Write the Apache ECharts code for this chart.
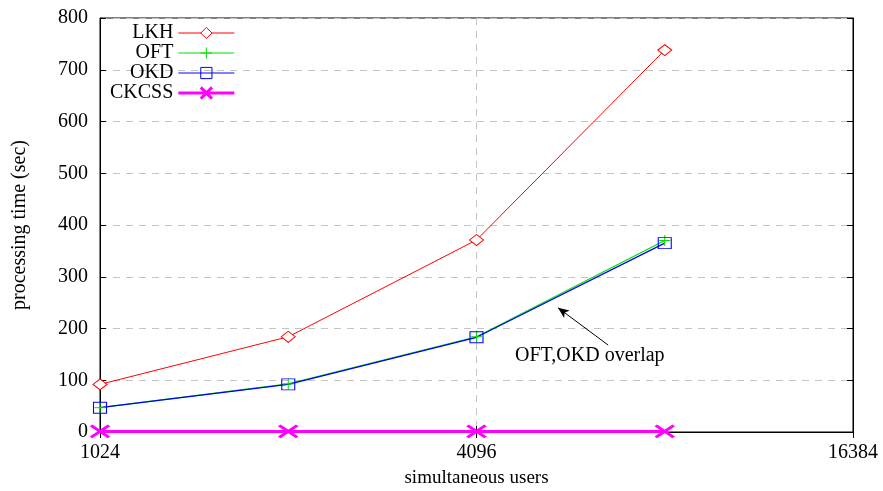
<!DOCTYPE html>
<html>
<head>
<meta charset="utf-8">
<script src="https://cdn.jsdelivr.net/npm/echarts@6/dist/echarts.min.js"></script>
<style>
  html, body { margin: 0; padding: 0; background: #fff; }
  #chart { width: 883px; height: 491px; }
</style>
</head>
<body>
<div id="chart"></div>
<script>
// simultaneous users (log2 axis)
var users = [1024, 2048, 4096, 8192];
var lkh = [92, 184, 371, 738];
var oft = [47, 93, 184, 370];
var okd = [47, 92, 183, 365];
var ckcss = [1, 1, 1, 1];
// arrow of the "overlap" note, in data units: [users, seconds]
var arrowFrom = [6650, 168];
var arrowTo = [5530, 240];

function pairs(vals) {
  return users.map(function (u, i) { return [u, vals[i]]; });
}

var font = 'Liberation Serif, Times New Roman, serif';
var gridDash = { color: '#c4c4c4', width: 1, type: [7, 6] };

var chart = echarts.init(document.getElementById('chart'));
chart.setOption({
  animation: false,
  textStyle: { fontFamily: font, color: '#000' },
  grid: {
    left: 100, right: 30, top: 18, bottom: 59,
    outerBoundsMode: 'none',
    containLabel: false,
    show: true, borderColor: '#000', borderWidth: 1
  },
  legend: {
    orient: 'vertical',
    align: 'right',
    left: 110,
    top: 23,
    padding: 0,
    itemGap: 0,
    itemWidth: 56,
    itemHeight: 14,
    textStyle: { fontFamily: font, fontSize: 20, color: '#000', lineHeight: 19.5 },
    data: [
      { name: 'LKH', lineStyle: { width: 1 }, itemStyle: { borderWidth: 1 } },
      { name: 'OFT', lineStyle: { width: 1 }, itemStyle: { borderWidth: 1 } },
      { name: 'OKD', lineStyle: { width: 1 }, itemStyle: { borderWidth: 1 } },
      { name: 'CKCSS', lineStyle: { width: 3 }, itemStyle: { borderWidth: 3 } }
    ]
  },
  xAxis: [
    {
      type: 'log',
      logBase: 2,
      min: 1024,
      max: 16384,
      interval: 2,
      name: 'simultaneous users',
      nameLocation: 'middle',
      nameGap: 37,
      nameTextStyle: { fontFamily: font, fontSize: 19, color: '#000' },
      axisLine: { lineStyle: { color: '#000', width: 1 } },
      axisTick: { inside: true, length: 6, lineStyle: { color: '#000' } },
      minorTick: { show: false },
      axisLabel: {
        fontFamily: font, fontSize: 20, color: '#000', margin: 11,
        formatter: function (v) { return String(Math.round(v)); }
      },
      splitLine: { show: true, lineStyle: gridDash }
    },
    {
      type: 'log',
      logBase: 2,
      position: 'top',
      min: 1024,
      max: 16384,
      interval: 2,
      axisLine: { lineStyle: { color: '#000', width: 1 } },
      axisTick: { inside: true, length: 6, lineStyle: { color: '#000' } },
      axisLabel: { show: false },
      splitLine: { show: false }
    }
  ],
  yAxis: [
    {
      type: 'value',
      min: 0,
      max: 800,
      interval: 100,
      name: 'processing time (sec)',
      nameLocation: 'middle',
      nameGap: 70,
      nameTextStyle: { fontFamily: font, fontSize: 20, color: '#000' },
      axisLine: { show: true, lineStyle: { color: '#000', width: 1 } },
      axisTick: { show: true, inside: true, length: 6, lineStyle: { color: '#000' } },
      axisLabel: { fontFamily: font, fontSize: 20, color: '#000', margin: 12 },
      splitLine: { show: true, lineStyle: gridDash }
    },
    {
      type: 'value',
      position: 'right',
      min: 0,
      max: 800,
      interval: 100,
      axisLine: { show: true, lineStyle: { color: '#000', width: 1 } },
      axisTick: { show: true, inside: true, length: 6, lineStyle: { color: '#000' } },
      axisLabel: { show: false },
      splitLine: { show: false }
    }
  ],
  series: [
    {
      name: 'LKH',
      type: 'line',
      data: pairs(lkh),
      symbol: 'diamond',
      symbolSize: [14, 11],
      lineStyle: { color: '#ff0000', width: 1 },
      itemStyle: { color: '#fff', borderColor: '#ff0000', borderWidth: 1 }
    },
    {
      name: 'OFT',
      type: 'line',
      data: pairs(oft),
      symbol: 'path://M0,5L10,5M5,0L5,10',
      symbolSize: 11,
      lineStyle: { color: '#00dd00', width: 1.2 },
      itemStyle: { color: '#00dd00', borderColor: '#00dd00', borderWidth: 1 }
    },
    {
      name: 'OKD',
      type: 'line',
      data: pairs(okd),
      symbol: 'rect',
      symbolSize: [13, 11],
      lineStyle: { color: '#0000ff', width: 1.2 },
      itemStyle: { color: 'rgba(255,255,255,0)', borderColor: '#0000ff', borderWidth: 1 },
      markLine: {
        silent: true,
        symbol: ['none', 'arrow'],
        symbolSize: [7, 11],
        label: { show: false },
        lineStyle: { color: '#000', width: 1, type: 'solid' },
        data: [[{ coord: arrowFrom }, { coord: arrowTo }]]
      }
    },
    {
      name: 'CKCSS',
      type: 'line',
      data: pairs(ckcss),
      symbol: 'path://M0,0L10,10M10,0L0,10',
      symbolSize: [18, 12],
      lineStyle: { color: '#ff00ff', width: 3 },
      itemStyle: { color: '#ff00ff', borderColor: '#ff00ff', borderWidth: 3 },
      z: 5
    }
  ],
  graphic: [
    {
      type: 'text',
      left: 515,
      top: 346,
      style: { text: 'OFT,OKD overlap', font: '20px ' + font, fill: '#000' }
    }
  ]
});
</script>
</body>
</html>
